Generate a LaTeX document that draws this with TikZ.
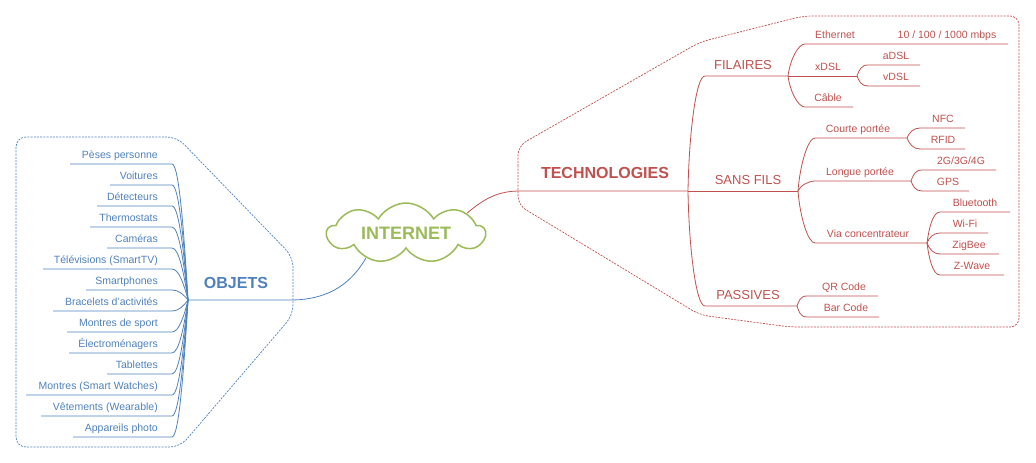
\documentclass[tikz,border=0pt]{standalone}
\usepackage{fontspec}
\setmainfont{Liberation Sans}
\usetikzlibrary{shapes.symbols,calc}
\definecolor{bl}{HTML}{4F81BD}
\definecolor{rd}{HTML}{C0504D}
\definecolor{gr}{HTML}{9BBB59}
\tikzset{
 lbl/.style={inner sep=0pt, font=\fontsize{10.5}{12}\selectfont},
 blbl/.style={lbl, text=bl, anchor=base east},
 rlbl/.style={lbl, text=rd, anchor=base},
 mainlbl/.style={inner sep=0pt, font=\fontsize{13}{15}\selectfont, text=rd, anchor=base},
 biglbl/.style={inner sep=0pt, font=\bfseries\fontsize{16}{18}\selectfont, anchor=base},
 blink/.style={draw=bl, line width=0.8pt},
 rlink/.style={draw=rd, line width=0.8pt},
 bound/.style={line width=0.7pt, dash pattern=on 2pt off 1.2pt},
}
\newcommand{\LeafB}[4]{%
 \coordinate (#1s) at (#2,#3);
 \coordinate (#1e) at (172,#3);
 \node[blbl] (#1) at (158,#3-5.5) {#4};
 \draw[blink] (#1s) -- (#1e) .. controls ($(#1e)+(7,0)$) and ($(Oh)!0.5!(Oh |- #1e)+(-4,0)$) .. (Oh);
}
\newcommand{\LeafR}[7]{%
 \coordinate (#1s) at (#3,#5);
 \coordinate (#1e) at (#4,#5);
 \node[rlbl] (#1) at (#6,#5-5.5) {#7};
 \draw[rlink] (#2) .. controls ($(#2)!0.5!(#2 |- #1s)+(2,0)$) and ($(#1s)+(-7,0)$) .. (#1s) -- (#1e);
}
\begin{document}
\begin{tikzpicture}[x=1pt,y=-1pt]
\useasboundingbox (0,0) rectangle (1036,463);

% boundaries
\draw[bl, bound, rounded corners=10pt] (16,300) -- (16,137) -- (177,137) -- (293,257) -- (293,315) -- (180,447) -- (16,447) -- cycle;
\draw[rd, bound, rounded corners=9pt] (518,175) -- (518,146) -- (700,42) -- (803,16) -- (1019,16) -- (1019,327) -- (790,327) -- (700,315) -- (518,205) -- cycle;

% cloud
\node[cloud, draw=gr, line width=1.5pt, cloud puffs=9, cloud puff arc=120, cloud ignores aspect,
      minimum width=158pt, minimum height=60pt, inner sep=0pt,
      font=\bfseries\fontsize{18}{20}\selectfont, text=gr] (net) at (406,233) {INTERNET};

% OBJETS side
\coordinate (Oh) at (188,300);
\coordinate (Ob) at (290,300);
\node[biglbl, text=bl] (obj) at (236,288) {OBJETS};
\draw[blink] (Oh) -- (Ob) to[out=0,in=240] (net.212);

\LeafB{l1}{70}{164}{Pèses personne}
\LeafB{l2}{110}{185}{Voitures}
\LeafB{l3}{97}{206}{Détecteurs}
\LeafB{l4}{90}{227}{Thermostats}
\LeafB{l5}{107}{248}{Caméras}
\LeafB{l6}{43}{269}{Télévisions (SmartTV)}
\LeafB{l7}{86}{290}{Smartphones}
\LeafB{l8}{53}{311}{Bracelets d'activités}
\LeafB{l9}{67}{332}{Montres de sport}
\LeafB{l10}{69}{353}{Électroménagers}
\LeafB{l11}{107}{374}{Tablettes}
\LeafB{l12}{26}{395}{Montres (Smart Watches)}
\LeafB{l13}{41}{416}{Vêtements (Wearable)}
\LeafB{l14}{73}{437}{Appareils photo}

% TECHNOLOGIES side
\coordinate (R) at (688,191);
\coordinate (Tb) at (520,191);
\node[biglbl, text=rd] (tech) at (605,178) {TECHNOLOGIES};
\draw[rlink] (net.18) to[out=40,in=180] (Tb) -- (R);

% FILAIRES
\coordinate (Fs) at (705,76);
\coordinate (Fe) at (788,76);
\node[mainlbl] (fil) at (743,69.5) {FILAIRES};
\draw[rlink] (R) .. controls ($(R)!0.5!(R |- Fs)+(1,0)$) and ($(Fs)+(-9,0)$) .. (Fs) -- (Fe);
\LeafR{eth}{Fe}{805}{1008}{44}{835}{Ethernet}
\node[rlbl] (mbps) at (947,38.5) {10 / 100 / 1000 mbps};
\draw[rlink] (Fe) -- (857,76) coordinate (xdsle);
\node[rlbl] (xdsl) at (828,70.5) {xDSL};
\LeafR{adsl}{xdsle}{868}{920}{65}{896}{aDSL}
\LeafR{vdsl}{xdsle}{868}{920}{86}{896}{vDSL}
\LeafR{cab}{Fe}{805}{853}{107}{828}{Câble}

% SANS FILS
\coordinate (Se) at (798,191);
\node[mainlbl] (sf) at (748,184.5) {SANS FILS};
\draw[rlink] (R) -- (Se);
\LeafR{court}{Se}{815}{907}{138}{858}{Courte portée}
\LeafR{nfc}{courte}{920}{965}{128}{943}{NFC}
\LeafR{rfid}{courte}{920}{965}{149}{943}{RFID}
\LeafR{long}{Se}{815}{911}{181}{860}{Longue portée}
\LeafR{gsm}{longe}{922}{996}{170}{961}{2G/3G/4G}
\LeafR{gps}{longe}{922}{969}{191}{948}{GPS}
\LeafR{via}{Se}{815}{927}{243}{868}{Via concentrateur}
\LeafR{bt}{viae}{940}{1010}{212}{975}{Bluetooth}
\LeafR{wifi}{viae}{940}{988}{233}{965}{Wi-Fi}
\LeafR{zig}{viae}{940}{999}{254}{969}{ZigBee}
\LeafR{zw}{viae}{940}{1004}{275}{972}{Z-Wave}

% PASSIVES
\coordinate (Ps) at (705,306);
\coordinate (Pe) at (797,306);
\node[mainlbl] (pas) at (748,299.5) {PASSIVES};
\draw[rlink] (R) .. controls ($(R)!0.5!(R |- Ps)+(1,0)$) and ($(Ps)+(-9,0)$) .. (Ps) -- (Pe);
\LeafR{qr}{Pe}{807}{878}{296}{844}{QR Code}
\LeafR{bar}{Pe}{807}{879}{317}{846}{Bar Code}
\end{tikzpicture}
\end{document}
